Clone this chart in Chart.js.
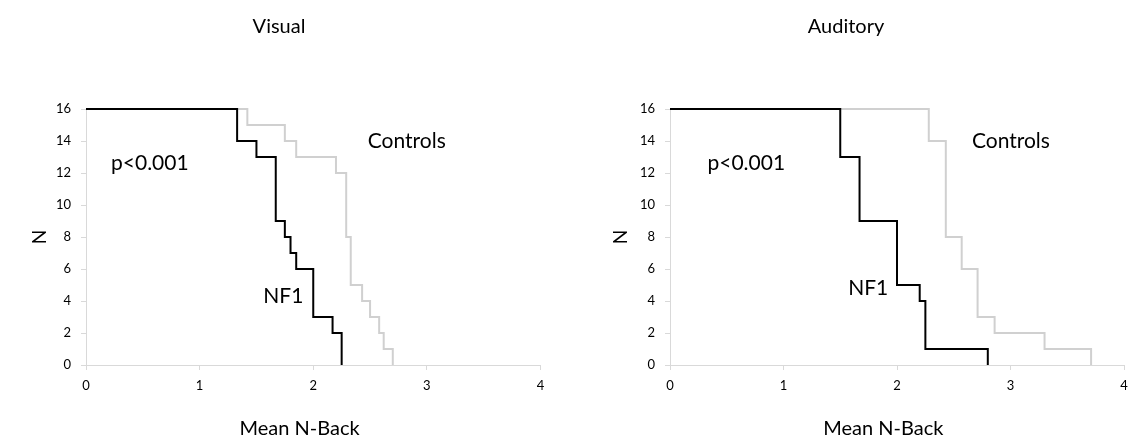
<!DOCTYPE html>
<html>
<head>
<meta charset="utf-8">
<script src="https://cdn.jsdelivr.net/npm/chart.js@4"></script>
<style>
  body { margin: 0; background: #fff; }
  .wrap { display: flex; width: 1128px; height: 442px; }
  canvas { display: block; }
</style>
</head>
<body>
<div class="wrap">
  <canvas id="visualChart" width="564" height="442"></canvas>
  <canvas id="auditoryChart" width="564" height="442"></canvas>
</div>
<script>
// Visual: x where each drop happens, and the N left after it
const visualNf1X = [0, 1.33, 1.5, 1.67, 1.75, 1.8, 1.85, 2.0, 2.17, 2.25];
const visualNf1Y = [16, 14, 13, 9, 8, 7, 6, 3, 2, 0];
const visualCtrlX = [0, 1.42, 1.75, 1.85, 2.2, 2.29, 2.33, 2.43, 2.5, 2.58, 2.62, 2.7];
const visualCtrlY = [16, 15, 14, 13, 12, 8, 5, 4, 3, 2, 1, 0];

// Auditory
const auditoryNf1X = [0, 1.5, 1.67, 2.0, 2.2, 2.25, 2.8];
const auditoryNf1Y = [16, 13, 9, 5, 4, 1, 0];
const auditoryCtrlX = [0, 2.28, 2.43, 2.57, 2.71, 2.86, 3.3, 3.71];
const auditoryCtrlY = [16, 14, 8, 6, 3, 2, 1, 0];

const xTicks = [0, 1, 2, 3, 4];
const yTicks = [0, 2, 4, 6, 8, 10, 12, 14, 16];

// annotation labels: [text, x, y] in data units (left edge, vertical middle)
const visualNotes = [['p<0.001', 0.22, 12.6], ['Controls', 2.48, 14], ['NF1', 1.56, 4.3]];
const auditoryNotes = [['p<0.001', 0.33, 12.6], ['Controls', 2.66, 14], ['NF1', 1.57, 4.8]];

const FONT = 'Lato, "Open Sans", sans-serif';
const axisGrey = '#d9d9d9';

function toPoints(xs, ys) {
  return xs.map((x, i) => ({ x: x, y: ys[i] }));
}

// chart title, x axis title and the in-plot notes
const textPlugin = {
  id: 'texts',
  afterDraw(chart, args, opts) {
    const ctx = chart.ctx;
    const xs = chart.scales.x, ys = chart.scales.y;
    ctx.save();
    ctx.fillStyle = '#000';
    ctx.textBaseline = 'middle';

    ctx.font = '20px ' + FONT;
    ctx.textAlign = 'center';
    ctx.fillText(opts.title, opts.titleX, 27);
    ctx.fillText('Mean N-Back', xs.getPixelForValue(1.88), 429);

    ctx.font = '21px ' + FONT;
    ctx.textAlign = 'left';
    opts.items.forEach(n => {
      ctx.fillText(n[0], xs.getPixelForValue(n[1]), ys.getPixelForValue(n[2]));
    });
    ctx.restore();
  }
};

function makeChart(id, title, titleX, nf1X, nf1Y, ctrlX, ctrlY, notes, plotLeft, padRight, nPad) {
  const ctx = document.getElementById(id).getContext('2d');
  return new Chart(ctx, {
    type: 'line',
    data: {
      datasets: [
        {
          label: 'NF1',
          data: toPoints(nf1X, nf1Y),
          borderColor: '#000000',
          borderWidth: 2,
          stepped: 'before',
          pointRadius: 0,
          clip: false
        },
        {
          label: 'Controls',
          data: toPoints(ctrlX, ctrlY),
          borderColor: '#d0d0d0',
          borderWidth: 2,
          stepped: 'before',
          pointRadius: 0,
          clip: false
        }
      ]
    },
    plugins: [textPlugin],
    options: {
      responsive: false,
      animation: false,
      devicePixelRatio: 1,
      layout: { padding: { left: 0, right: padRight, top: 109, bottom: 0 } },
      plugins: {
        legend: { display: false },
        tooltip: { enabled: false },
        title: { display: false },
        texts: { items: notes, title: title, titleX: titleX }
      },
      scales: {
        x: {
          type: 'linear',
          min: 0,
          max: 4,
          afterBuildTicks: s => { s.ticks = xTicks.map(v => ({ value: v })); },
          afterFit: s => { s.height = 77; s.paddingLeft = 0; s.paddingRight = 0; },
          border: { color: axisGrey, width: 1 },
          grid: { drawOnChartArea: false, drawTicks: true, tickLength: 5, color: axisGrey },
          ticks: { color: '#000', padding: 8, font: { family: FONT, size: 13 }, maxRotation: 0 }
        },
        y: {
          min: 0,
          max: 16,
          afterBuildTicks: s => { s.ticks = yTicks.map(v => ({ value: v })); },
          afterFit: s => { s.width = plotLeft; s.paddingTop = 0; },
          border: { color: axisGrey, width: 1 },
          grid: { drawOnChartArea: false, drawTicks: true, tickLength: 5, color: axisGrey },
          ticks: { color: '#000', padding: 10, font: { family: FONT, size: 13 } },
          title: {
            display: true,
            text: 'N',
            color: '#000',
            font: { family: FONT, size: 19 },
            padding: { top: nPad, bottom: 0 }
          }
        }
      }
    }
  });
}

makeChart('visualChart', 'Visual', 279, visualNf1X, visualNf1Y, visualCtrlX, visualCtrlY, visualNotes, 86, 23.5, 28);
makeChart('auditoryChart', 'Auditory', 282, auditoryNf1X, auditoryNf1Y, auditoryCtrlX, auditoryCtrlY, auditoryNotes, 106, 4, 45);
</script>
</body>
</html>
